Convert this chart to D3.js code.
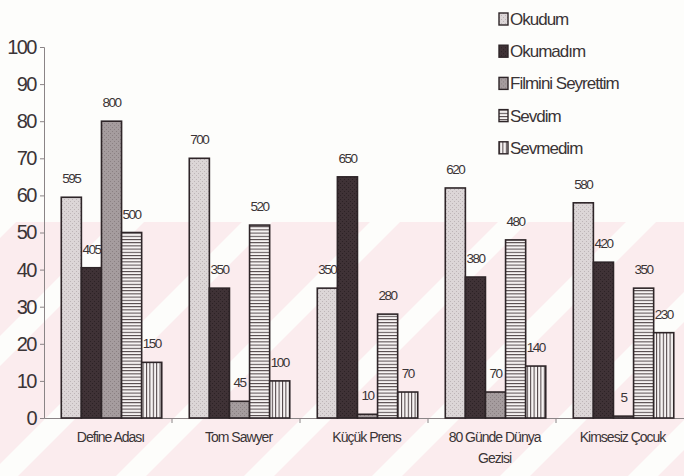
<!DOCTYPE html>
<html>
<head>
<meta charset="utf-8">
<script src="https://cdn.jsdelivr.net/npm/d3@7"></script>
<style>
  body { margin: 0; background: #fdfdfb; }
  svg { display: block; font-family: "Liberation Sans", Arial, sans-serif; }
</style>
</head>
<body>
<div id="chart"></div>
<script>
// data (percent values, label shows value x10 as printed in the scan)
const books = ["Define Adası", "Tom Sawyer", "Küçük Prens", "80 Günde Dünya Gezisi", "Kimsesiz Çocuk"];
const series = ["Okudum", "Okumadım", "Filmini Seyrettim", "Sevdim", "Sevmedim"];
const okudum = [59.5, 70, 35, 62, 58];
const okumadim = [40.5, 35, 65, 38, 42];
const filmini = [80, 4.5, 1, 7, 0.5];
const sevdim = [50, 52, 28, 48, 35];
const sevmedim = [15, 10, 7, 14, 23];
const yTicks = [0, 10, 20, 30, 40, 50, 60, 70, 80, 90, 100];

const values = [okudum, okumadim, filmini, sevdim, sevmedim];

const W = 684, H = 476;
const margin = { top: 47, right: 0, bottom: 58, left: 44 };

const svg = d3.select("#chart").append("svg")
    .attr("width", W)
    .attr("height", H);

const defs = svg.append("defs");

// speckled fills for the scanned look
function speckle(id, base, dot) {
    const p = defs.append("pattern")
        .attr("id", id)
        .attr("patternUnits", "userSpaceOnUse")
        .attr("width", 4).attr("height", 4);
    p.append("rect").attr("width", 4).attr("height", 4).attr("fill", base);
    p.append("rect").attr("x", 0).attr("y", 0).attr("width", 1).attr("height", 1).attr("fill", dot);
    p.append("rect").attr("x", 2).attr("y", 2).attr("width", 1).attr("height", 1).attr("fill", dot);
}
speckle("pOkudum", "#dcd6d7", "#bdb5b7");
speckle("pOkumadim", "#3f3236", "#2c2225");
speckle("pFilm", "#a59c9e", "#8a8082");

const hp = defs.append("pattern")
    .attr("id", "pSevdim")
    .attr("patternUnits", "userSpaceOnUse")
    .attr("width", 6).attr("height", 3.2);
hp.append("rect").attr("width", 6).attr("height", 3.2).attr("fill", "#f7f3f3");
hp.append("rect").attr("y", 0).attr("width", 6).attr("height", 1).attr("fill", "#4a3f42");

const vp = defs.append("pattern")
    .attr("id", "pSevmedim")
    .attr("patternUnits", "userSpaceOnUse")
    .attr("width", 3.4).attr("height", 6);
vp.append("rect").attr("width", 3.4).attr("height", 6).attr("fill", "#f7f3f3");
vp.append("rect").attr("x", 0).attr("width", 1).attr("height", 6).attr("fill", "#4a3f42");

const fills = ["url(#pOkudum)", "url(#pOkumadim)", "url(#pFilm)", "url(#pSevdim)", "url(#pSevmedim)"];

// faint watermark stripes from the scan
const wm = defs.append("pattern")
    .attr("id", "wm")
    .attr("patternUnits", "userSpaceOnUse")
    .attr("width", 128).attr("height", 128)
    .attr("patternTransform", "skewX(-45)");
wm.append("rect").attr("width", 128).attr("height", 128).attr("fill", "#fbecee");
wm.append("rect").attr("x", 80).attr("width", 30).attr("height", 128).attr("fill", "#fdfdfb");
svg.append("rect")
    .attr("x", 0).attr("y", 222)
    .attr("width", W).attr("height", H - 222)
    .attr("fill", "url(#wm)");

const g = svg.append("g")
    .attr("transform", "translate(" + margin.left + "," + margin.top + ")");
const width = W - margin.left - margin.right;
const height = H - margin.top - margin.bottom;

// scales
const x0 = d3.scaleBand().domain(books).range([0, width]);
const x1 = d3.scaleBand().domain(series)
    .range([x0.bandwidth() * 0.135, x0.bandwidth() * 0.92]);
const y = d3.scaleLinear().domain([0, 100]).range([height, 0]);

// Y axis
const yAxis = g.append("g")
    .call(d3.axisLeft(y).tickValues(yTicks).tickSize(4).tickPadding(4));
yAxis.select(".domain").attr("stroke", "#8a8486");
yAxis.selectAll(".tick line").attr("stroke", "#8a8486");
yAxis.selectAll(".tick text")
    .attr("fill", "#3a3436")
    .style("font-size", "20px")
    .style("letter-spacing", "-1.5px");

// X axis
const xAxis = g.append("g")
    .attr("transform", "translate(0," + height + ")")
    .call(d3.axisBottom(x0).tickSize(0).tickFormat(""));
xAxis.select(".domain").attr("stroke", "#8a8486");
g.append("g").selectAll("line.sep")
    .data(books.slice(1))
    .join("line")
    .attr("x1", d => x0(d)).attr("x2", d => x0(d))
    .attr("y1", height).attr("y2", height + 5)
    .attr("stroke", "#8a8486");

// category labels
const catLabels = g.append("g").selectAll("text.cat")
    .data(books)
    .join("text")
    .attr("x", d => x0(d) + x0.bandwidth() * 0.52)
    .attr("y", height + 24)
    .attr("text-anchor", "middle")
    .attr("fill", "#3a3436")
    .style("font-size", "14px")
    .style("letter-spacing", "-1px");
catLabels.each(function(d) {
    const t = d3.select(this);
    if (d === "80 Günde Dünya Gezisi") {
        t.append("tspan").attr("x", x0(d) + x0.bandwidth() * 0.52).text("80 Günde Dünya");
        t.append("tspan").attr("x", x0(d) + x0.bandwidth() * 0.52).attr("dy", 21).text("Gezisi");
    } else {
        t.text(d);
    }
});

// bars
const rows = [];
books.forEach((b, i) => {
    series.forEach((s, j) => {
        rows.push({ book: b, series: s, idx: j, value: values[j][i] });
    });
});

const bw = x1.bandwidth();
g.append("g").selectAll("rect.bar")
    .data(rows)
    .join("rect")
    .attr("x", d => x0(d.book) + x1(d.series))
    .attr("y", d => y(d.value))
    .attr("width", bw)
    .attr("height", d => height - y(d.value))
    .attr("fill", d => fills[d.idx])
    .attr("stroke", "#2e2528")
    .attr("stroke-width", 1.6);

// value labels
g.append("g").selectAll("text.val")
    .data(rows)
    .join("text")
    .attr("x", d => x0(d.book) + x1(d.series) + bw / 2)
    .attr("y", d => y(d.value) - 14)
    .attr("text-anchor", "middle")
    .attr("fill", "#3a3436")
    .style("font-size", "13.5px")
    .style("letter-spacing", "-1.5px")
    .text(d => Math.round(d.value * 10));

// legend
const legend = svg.append("g")
    .attr("transform", "translate(499,13)");
const li = legend.selectAll("g")
    .data(series)
    .join("g")
    .attr("transform", (d, i) => "translate(0," + (i * 32.2) + ")");
li.append("rect")
    .attr("width", 9).attr("height", 12)
    .attr("fill", (d, i) => fills[i])
    .attr("stroke", "#2e2528")
    .attr("stroke-width", 1.4);
li.append("text")
    .attr("x", 11)
    .attr("y", 12)
    .attr("fill", "#3a3436")
    .style("font-size", "17px")
    .style("letter-spacing", "-1px")
    .text(d => d);
</script>
</body>
</html>
